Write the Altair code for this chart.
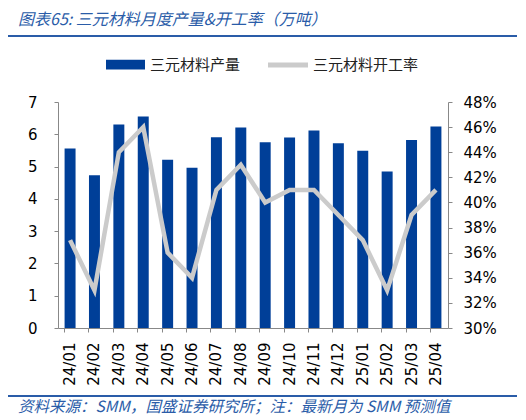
import altair as alt
import pandas as pd

# 月份、产量（万吨）、开工率
MONTHS = ['24/01', '24/02', '24/03', '24/04', '24/05', '24/06', '24/07', '24/08',
          '24/09', '24/10', '24/11', '24/12', '25/01', '25/02', '25/03', '25/04']
OUTPUT = [5.56, 4.73, 6.30, 6.55, 5.21, 4.96, 5.91, 6.21,
          5.75, 5.90, 6.12, 5.72, 5.49, 4.85, 5.82, 6.24]
RATE = [0.37, 0.33, 0.44, 0.46, 0.36, 0.34, 0.41, 0.43,
        0.40, 0.41, 0.41, 0.39, 0.37, 0.33, 0.39, 0.41]

BAR_NAME = '三元材料产量'
LINE_NAME = '三元材料开工率'
TITLE = '图表65:  三元材料月度产量&开工率（万吨）'
SOURCE = '资料来源：SMM，国盛证券研究所；注：最新月为 SMM 预测值'

BLUE = '#003F98'
GREY = '#CBCBCB'
TEXT_BLUE = '#2A5CA8'
FONT = 'DejaVu Sans'
CJK = 'Noto Sans CJK SC'

df = pd.DataFrame({'month': MONTHS, 'output': OUTPUT, 'rate': RATE})
df['bar_s'] = BAR_NAME
df['line_s'] = LINE_NAME

base = alt.Chart(df)
x = alt.X('month:N', sort=MONTHS, title=None,
          scale=alt.Scale(paddingInner=0.55, paddingOuter=0.27),
          axis=alt.Axis(labelAngle=270, labelFont=FONT, labelFontSize=15,
                        labelColor='#000', domainColor='#888', tickColor='#888',
                        tickSize=4, bandPosition=0, labelPadding=10,
                        labelBaseline='middle', labelAlign='right'))

bars = base.mark_bar(color=BLUE).encode(
    x=x,
    y=alt.Y('output:Q', title=None,
            scale=alt.Scale(domain=[0, 7]),
            axis=alt.Axis(values=list(range(8)), labelFont=FONT, labelFontSize=15,
                          labelColor='#000', domainColor='#888', tickColor='#888',
                          tickSize=4, grid=False, labelPadding=17)),
    color=alt.Color('bar_s:N', scale=alt.Scale(range=[BLUE]),
                    legend=alt.Legend(title=None, orient='none', legendX=48, legendY=-57,
                                      symbolType='M-1,-0.25H1V0.25H-1Z', symbolSize=1521,
                                      symbolStrokeWidth=0, symbolFillColor=BLUE,
                                      labelFont=CJK, labelFontSize=15,
                                      labelColor='#222', labelOffset=5, padding=0)),
)

line = base.mark_line(strokeWidth=4.5, color=GREY).encode(
    x=x,
    y=alt.Y('rate:Q', title=None,
            scale=alt.Scale(domain=[0.30, 0.48]),
            axis=alt.Axis(orient='right', format='.0%',
                          values=[0.30, 0.32, 0.34, 0.36, 0.38, 0.40, 0.42, 0.44, 0.46, 0.48],
                          labelFont=FONT, labelFontSize=15, labelColor='#000',
                          domainColor='#888', tickColor='#888', tickSize=4,
                          grid=False, labelPadding=11)),
    color=alt.Color('line_s:N', scale=alt.Scale(range=[GREY]),
                    legend=alt.Legend(title=None, orient='none', legendX=210, legendY=-57,
                                      symbolType='M-1,-0.12H1V0.12H-1Z', symbolSize=1600,
                                      symbolStrokeWidth=0, symbolFillColor=GREY,
                                      labelFont=CJK, labelFontSize=15,
                                      labelColor='#222', labelOffset=5, padding=0)),
)

title = alt.Chart(pd.DataFrame({'t': [TITLE]})).mark_text(
    align='left', baseline='middle', font=CJK, fontSize=16, fontStyle='italic',
    color=TEXT_BLUE
).encode(text='t:N', x=alt.value(-40), y=alt.value(-82))

source = alt.Chart(pd.DataFrame({'t': [SOURCE]})).mark_text(
    align='left', baseline='middle', font=CJK, fontSize=15.5, fontStyle='italic',
    color=TEXT_BLUE
).encode(text='t:N', x=alt.value(-40), y=alt.value(305))

top_rule = alt.Chart(pd.DataFrame({'a': [0]})).mark_rule(
    color=TEXT_BLUE, strokeWidth=2
).encode(x=alt.value(-53), x2=alt.value(459), y=alt.value(-66))

bottom_rule = alt.Chart(pd.DataFrame({'a': [0]})).mark_rule(
    color=TEXT_BLUE, strokeWidth=2
).encode(x=alt.value(-53), x2=alt.value(459), y=alt.value(294))

chart = alt.layer(bars, line, title, source, top_rule, bottom_rule).resolve_scale(
    y='independent', color='independent'
).properties(
    width=390, height=226,
    autosize=alt.AutoSizeParams(type='none'),
    padding={'left': 50, 'top': 94, 'right': 70, 'bottom': 90},
    background='white'
).configure_view(stroke=None)

chart.save('out.html', embed_options={'renderer': 'svg', 'actions': False})
